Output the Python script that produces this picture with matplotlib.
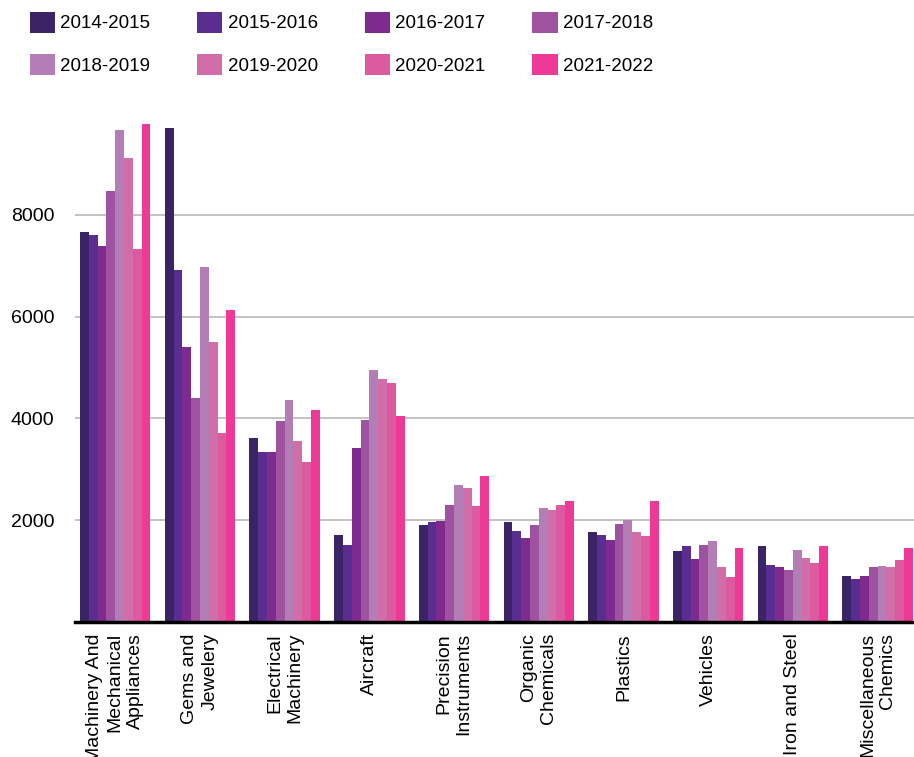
import matplotlib.pyplot as plt
import numpy as np

plt.rcParams['font.family'] = ['Liberation Sans', 'DejaVu Sans']

categories = ['Machinery And\nMechanical\nAppliances', 'Gems and\nJewelery',
              'Electrical\nMachinery', 'Aircraft', 'Precision\nInstruments',
              'Organic\nChemicals', 'Plastics', 'Vehicles', 'Iron and Steel',
              'Miscellaneous\nChemics']
years = ['2014-2015', '2015-2016', '2016-2017', '2017-2018',
         '2018-2019', '2019-2020', '2020-2021', '2021-2022']
colors = ['#3b2466', '#5a2d91', '#7f2a8f', '#9e52a0',
          '#b37db5', '#d16ea9', '#db5aa0', '#ee3a96']

# one list per year, same order as categories
y2014 = [7667, 9708, 3616, 1700, 1904, 1961, 1768, 1402, 1498, 900]
y2015 = [7595, 6925, 3342, 1505, 1961, 1788, 1711, 1498, 1113, 842]
y2016 = [7389, 5394, 3342, 3420, 1981, 1653, 1614, 1228, 1074, 900]
y2017 = [8476, 4394, 3948, 3967, 2289, 1904, 1923, 1518, 1016, 1074]
y2018 = [9669, 6965, 4358, 4945, 2695, 2232, 2000, 1595, 1421, 1093]
y2019 = [9119, 5494, 3557, 4769, 2637, 2193, 1768, 1074, 1248, 1074]
y2020 = [7336, 3711, 3147, 4691, 2270, 2289, 1691, 881, 1151, 1209]
y2021 = [9788, 6123, 4163, 4046, 2868, 2386, 2386, 1460, 1498, 1460]
series = [y2014, y2015, y2016, y2017, y2018, y2019, y2020, y2021]

fig = plt.figure(figsize=(9.14, 7.57), dpi=100)
ax = fig.add_axes([75 / 914, 135 / 757, 839 / 914, 509 / 757])

x = np.arange(len(categories))
w = 0.104
bars = []
for i, (vals, c) in enumerate(zip(series, colors)):
    b = ax.bar(x + (i - 3.5) * w, vals, width=w, color=c, label=years[i], zorder=3)
    bars.append(b)

ax.set_xlim(-0.475, 9.43)
ax.set_ylim(0, 10000)
ax.set_yticks([2000, 4000, 6000, 8000])
ax.set_xticks(x)
ax.set_xticklabels(categories, rotation=90, ha='center', va='top',
                   multialignment='right', fontsize=14, linespacing=1.25)
ax.tick_params(axis='y', length=0, labelsize=14, pad=15)
ax.tick_params(axis='x', length=0, pad=8)
ax.grid(axis='y', color='#bdbdbd', linewidth=1.3, zorder=0)

for s in ['left', 'right', 'top']:
    ax.spines[s].set_visible(False)
ax.spines['bottom'].set_linewidth(2.5)
ax.spines['bottom'].set_color('black')
ax.spines['bottom'].set_zorder(4)

# legend fills column by column, so reorder to read across rows
order = [0, 4, 1, 5, 2, 6, 3, 7]
fig.legend([bars[k] for k in order], [years[k] for k in order],
           loc='upper left', bbox_to_anchor=(22 / 914, 1 - 4 / 757), ncol=4,
           frameon=False, fontsize=13.5, handlelength=1.35, handleheight=1.35,
           handletextpad=0.3, columnspacing=2.48, labelspacing=1.15,
           borderaxespad=0)

fig.savefig('out.png', dpi=100)
